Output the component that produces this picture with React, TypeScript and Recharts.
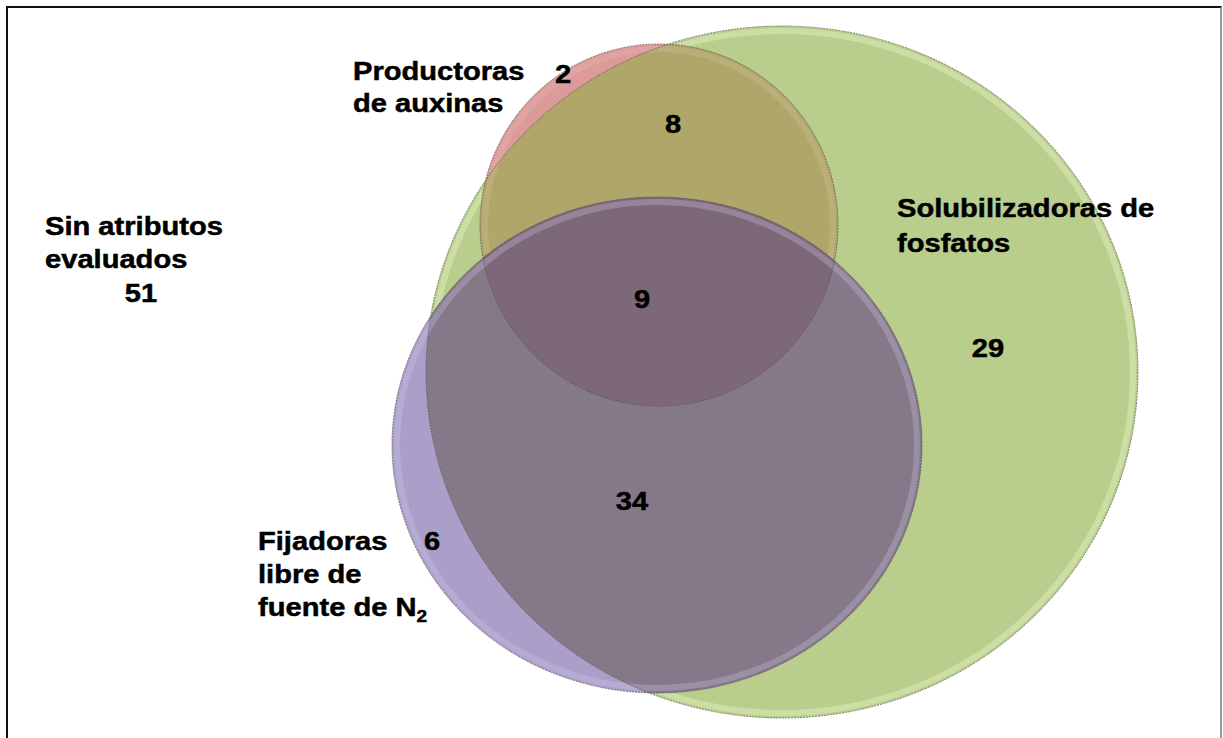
import React from 'react'
import { ScatterChart, Scatter, XAxis, YAxis } from 'recharts'

// canvas in chart units (1 unit = 1 px)
const CHART_W = 1223
const CHART_H = 738
const X_DOMAIN: [number, number] = [0, 1223]
const Y_DOMAIN: [number, number] = [0, 738]
const KX = CHART_W / (X_DOMAIN[1] - X_DOMAIN[0])
const KY = CHART_H / (Y_DOMAIN[1] - Y_DOMAIN[0])

// the three sets, drawn in this order
const SET_IDS = ['fosfatos', 'auxinas', 'fijadoras']
const SET_CX = [782, 659, 657]
const SET_CY = [372, 225, 445]
const SET_RX = [356, 179, 265]
const SET_RY = [346, 181, 248]

// set names
const NAME_LINES = [
  ['Productoras', 'de auxinas'],
  ['Solubilizadoras de', 'fosfatos'],
  ['Fijadoras', 'libre de', 'fuente de N|2'],
  ['Sin atributos', 'evaluados'],
]
const NAME_X = [353, 897, 258, 45]
const NAME_Y = [80, 217, 550, 235]
const NAME_LEADING = [32, 35, 33, 33.5]

// counts per region
const REGION_COUNTS = [2, 8, 9, 29, 34, 6, 51]
const REGION_X = [563, 673, 642, 988, 632, 432, 141]
const REGION_Y = [83, 133, 308, 357, 510, 550, 302]

const GREEN = '#b9cd8d'
const RED = '#dc9a98'
const RED_GREEN = '#b1a66a'
const PURPLE = '#ab9fc9'
const PURPLE_GREEN = '#847889'
const PURPLE_RED = '#8f7592'
const TRIPLE = '#7d687a'

const FONT = '"Liberation Sans", Arial, sans-serif'
const STRETCH = 1.12

const setData = SET_IDS.map((id, i) => ({ id, x: SET_CX[i], y: SET_CY[i], rx: SET_RX[i], ry: SET_RY[i] }))
const nameData = NAME_LINES.map((lines, i) => ({ lines, x: NAME_X[i], y: NAME_Y[i], lead: NAME_LEADING[i] }))
const countData = REGION_COUNTS.map((n, i) => ({ n, x: REGION_X[i], y: REGION_Y[i] }))

const SetShape = (props: any) => {
  const { cx, cy, payload } = props
  const rx = payload.rx * KX
  const ry = payload.ry * KY
  const e = { cx, cy, rx, ry }
  if (payload.id === 'fosfatos') {
    return (
      <g>
        <defs>
          <clipPath id="clip-fosfatos"><ellipse {...e} /></clipPath>
        </defs>
        <ellipse {...e} fill={GREEN} />
        <ellipse cx={cx} cy={cy} rx={rx - 5} ry={ry - 5} fill="none" stroke="#e2f0bd" strokeOpacity={0.5} strokeWidth={6} />
      </g>
    )
  }
  if (payload.id === 'auxinas') {
    return (
      <g>
        <defs>
          <clipPath id="clip-auxinas"><ellipse {...e} /></clipPath>
        </defs>
        <ellipse {...e} fill={RED} />
        <ellipse {...e} fill={RED_GREEN} clipPath="url(#clip-fosfatos)" />
        <ellipse cx={cx} cy={cy} rx={rx - 5} ry={ry - 5} fill="none" stroke="#fff" strokeOpacity={0.1} strokeWidth={6} />
      </g>
    )
  }
  return (
    <g>
      <ellipse {...e} fill={PURPLE} />
      <ellipse {...e} fill={PURPLE_RED} clipPath="url(#clip-auxinas)" />
      <ellipse {...e} fill={PURPLE_GREEN} clipPath="url(#clip-fosfatos)" />
      <g clipPath="url(#clip-fosfatos)">
        <ellipse {...e} fill={TRIPLE} clipPath="url(#clip-auxinas)" />
      </g>
      <ellipse cx={cx} cy={cy} rx={rx - 5} ry={ry - 5} fill="none" stroke="#d6cdf0" strokeOpacity={0.28} strokeWidth={6} />
    </g>
  )
}

const OutlineShape = (props: any) => {
  const { cx, cy, payload } = props
  return (
    <ellipse
      cx={cx}
      cy={cy}
      rx={payload.rx * KX}
      ry={payload.ry * KY}
      fill="none"
      stroke="#55554a"
      strokeOpacity={0.7}
      strokeWidth={1}
      strokeDasharray="2 1"
    />
  )
}

const NameShape = (props: any) => {
  const { cx, cy, payload } = props
  return (
    <g transform={`translate(${cx},${cy}) scale(${STRETCH},1)`}>
      {payload.lines.map((line: string, i: number) => {
        const [main, sub] = line.split('|')
        return (
          <text key={i} x={0} y={i * payload.lead} fontFamily={FONT} fontWeight="bold" fontSize={26} fill="#000" stroke="#000" strokeWidth={0.5}>
            {main}
            {sub && <tspan fontSize={17} dy={6}>{sub}</tspan>}
          </text>
        )
      })}
    </g>
  )
}

const CountShape = (props: any) => {
  const { cx, cy, payload } = props
  return (
    <g transform={`translate(${cx},${cy}) scale(${STRETCH},1)`}>
      <text x={0} y={0} textAnchor="middle" fontFamily={FONT} fontWeight="bold" fontSize={26} fill="#000" stroke="#000" strokeWidth={0.5}>
        {payload.n}
      </text>
    </g>
  )
}

export default function App() {
  return (
    <div style={{ position: 'absolute', left: 0, top: 0, width: CHART_W, height: CHART_H, background: '#fff', overflow: 'hidden' }}>
      <ScatterChart width={CHART_W} height={CHART_H} margin={{ top: 0, right: 0, bottom: 0, left: 0 }}>
        <XAxis type="number" dataKey="x" domain={X_DOMAIN} hide allowDataOverflow />
        <YAxis type="number" dataKey="y" domain={Y_DOMAIN} reversed hide allowDataOverflow />
        <Scatter data={setData} shape={SetShape} isAnimationActive={false} />
        <Scatter data={setData} shape={OutlineShape} isAnimationActive={false} />
        <Scatter data={nameData} shape={NameShape} isAnimationActive={false} />
        <Scatter data={countData} shape={CountShape} isAnimationActive={false} />
      </ScatterChart>
      <div
        style={{
          position: 'absolute',
          left: 6,
          top: 6,
          width: 1216,
          height: 760,
          boxSizing: 'border-box',
          borderLeft: '2px solid #111',
          borderTop: '2px solid #111',
          borderRight: '2px solid #9a9a9a',
          pointerEvents: 'none',
        }}
      />
    </div>
  )
}
